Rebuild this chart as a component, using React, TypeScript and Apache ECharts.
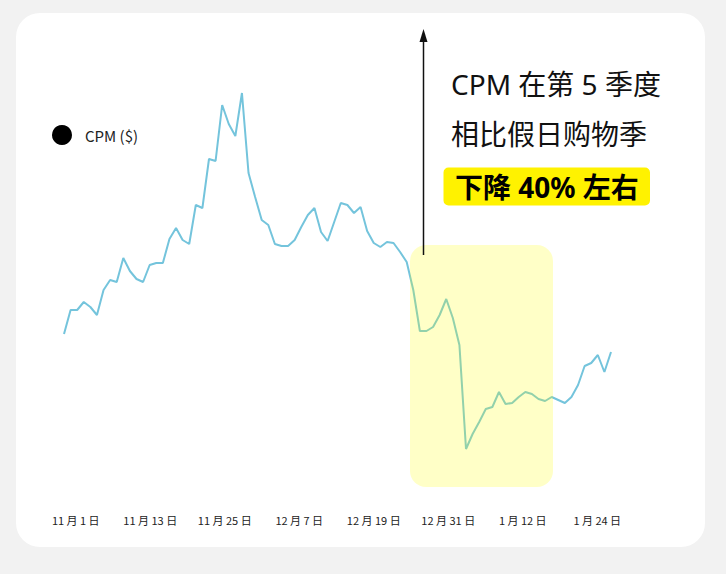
import * as echarts from 'echarts';
import React, { useEffect, useRef } from 'react';

// CPM readings, one per day, starting two days before Nov 1
const cpmValues = [
  8.3, 9.5, 9.5, 9.9, 9.65, 9.25, 10.5, 11.0, 10.9, 12.1, 11.45, 11.05, 10.9, 11.75,
  11.85, 11.85, 13.05, 13.6, 13.0, 12.8, 14.75, 14.6, 17.05, 16.95, 19.75, 18.8, 18.2,
  20.35, 16.35, 15.15, 14.0, 13.75, 12.8, 12.7, 12.7, 13.0, 13.65, 14.25, 14.6, 13.4,
  12.95, 13.9, 14.85, 14.75, 14.35, 14.65, 13.45, 12.85, 12.65, 12.9, 12.85, 12.4, 11.9,
  10.5, 8.45, 8.45, 8.65, 9.25, 10.05, 9.1, 7.75, 2.55, 3.3, 3.9, 4.55, 4.65, 5.4, 4.8,
  4.85, 5.15, 5.4, 5.3, 5.05, 4.95, 5.15, 5.0, 4.85, 5.15, 5.75, 6.7, 6.85, 7.25, 6.4, 7.4,
];

const tickLabels = [
  '11 月 1 日',
  '11 月 13 日',
  '11 月 25 日',
  '12 月 7 日',
  '12 月 19 日',
  '12 月 31 日',
  '1 月 12 日',
  '1 月 24 日',
];

const seriesName = 'CPM ($)';
const noteLines = ['CPM 在第 5 季度', '相比假日购物季'];
const noteHighlight = '下降 40% 左右';

const dayLabels = cpmValues.map((_, i) => {
  const d = new Date(2022, 9, 30 + i);
  return `${d.getMonth() + 1} 月 ${d.getDate()} 日`;
});

const FONT = '"Noto Sans CJK SC", "Noto Sans", sans-serif';
// wider latin glyphs for the callout, CJK falls back
const NOTE_FONT = '"Noto Sans", "Noto Sans CJK SC", sans-serif';

const App: React.FC = () => {
  const ref = useRef<HTMLDivElement>(null);

  useEffect(() => {
    const chart = echarts.init(ref.current, null, { renderer: 'svg' });
    chart.setOption({
      animation: false,
      backgroundColor: '#f2f2f2',
      textStyle: { fontFamily: FONT },
      legend: {
        left: 52,
        top: 125,
        padding: 0,
        icon: 'circle',
        itemWidth: 20,
        itemHeight: 20,
        data: [{ name: seriesName, itemStyle: { color: '#000' } }],
        textStyle: { fontSize: 15, color: '#222', padding: [0, 0, 0, 8] },
      },
      grid: [
        { left: 64, right: 115, top: 0, height: 500 },
        { left: 38.5, width: 596, top: 400, height: 110 },
      ],
      xAxis: [
        {
          gridIndex: 0,
          type: 'category',
          data: dayLabels,
          boundaryGap: false,
          show: false,
        },
        {
          gridIndex: 1,
          type: 'category',
          data: tickLabels,
          axisLine: { show: false },
          axisTick: { show: false },
          axisLabel: { interval: 0, fontSize: 11, color: '#222', margin: 4 },
        },
      ],
      yAxis: [
        { gridIndex: 0, type: 'value', min: 0, max: 25, show: false },
        { gridIndex: 1, type: 'value', show: false },
      ],
      series: [
        {
          name: seriesName,
          type: 'line',
          data: cpmValues,
          showSymbol: false,
          lineStyle: { color: '#74c4dc', width: 2 },
          itemStyle: { color: '#74c4dc' },
          z: 3,
        },
      ],
      graphic: [
        {
          type: 'rect',
          z: -1,
          shape: { x: 16, y: 13, width: 689, height: 534, r: 24 },
          style: { fill: '#fff' },
        },
        {
          type: 'rect',
          z: 10,
          shape: { x: 410, y: 245, width: 143, height: 242, r: 16 },
          style: { fill: 'rgba(255,255,0,0.22)' },
        },
        {
          type: 'line',
          z: 10,
          shape: { x1: 423.5, y1: 255, x2: 423.5, y2: 38 },
          style: { stroke: '#111', lineWidth: 1.5 },
        },
        {
          type: 'polygon',
          z: 10,
          shape: { points: [[423.5, 29], [419.5, 42], [427.5, 42]] },
          style: { fill: '#111' },
        },
        {
          type: 'rect',
          z: 10,
          shape: { x: 443.5, y: 167.5, width: 206.5, height: 38, r: 5 },
          style: { fill: '#fff200' },
        },
        ...noteLines.map((line, i) => ({
          type: 'text',
          z: 11,
          x: 451,
          y: 84 + i * 50,
          style: {
            text: line,
            fill: '#111',
            font: `28px ${NOTE_FONT}`,
            textVerticalAlign: 'middle',
          },
        })),
        {
          type: 'text',
          z: 11,
          x: 455,
          y: 187,
          style: {
            text: noteHighlight,
            fill: '#000',
            font: `bold 28px ${NOTE_FONT}`,
            textVerticalAlign: 'middle',
          },
        },
      ],
    });

    return () => {
      chart.dispose();
    };
  }, []);

  return (
    <div style={{ position: 'fixed', left: 0, top: 0, width: 726, height: 574, background: '#f2f2f2' }}>
      <div ref={ref} style={{ width: 726, height: 574 }}></div>
    </div>
  );
};

export default App;
